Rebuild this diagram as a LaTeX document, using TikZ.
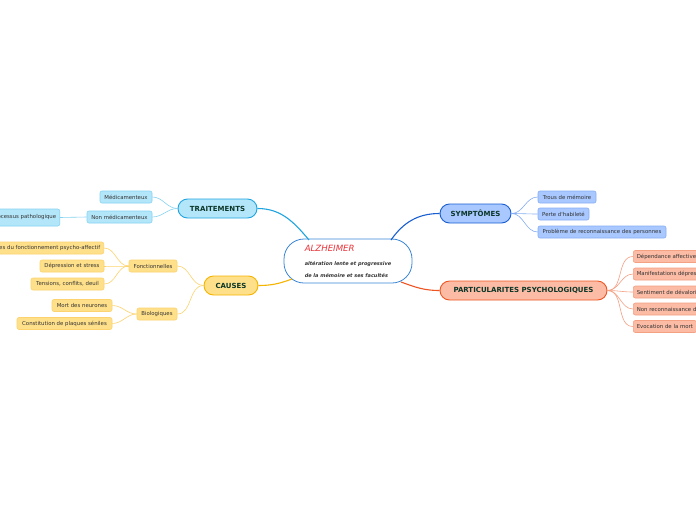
\documentclass[tikz,border=0pt]{standalone}
\usepackage{fontspec}
\newfontfamily\dv{DejaVu Sans}
\usetikzlibrary{positioning}
\definecolor{txt}{HTML}{333333}
\definecolor{maintxt}{HTML}{0B3628}
\definecolor{trF}{HTML}{B4E6FA}\definecolor{trD}{HTML}{1EA5E0}\definecolor{trL}{HTML}{86D3F2}
\definecolor{caF}{HTML}{FFE08A}\definecolor{caD}{HTML}{F5B400}\definecolor{caL}{HTML}{FCD36E}
\definecolor{syF}{HTML}{A8C8FF}\definecolor{syD}{HTML}{1A5FD0}\definecolor{syL}{HTML}{86AEF2}
\definecolor{ppF}{HTML}{FBBBA5}\definecolor{ppD}{HTML}{EE5522}\definecolor{ppL}{HTML}{F4A083}
\definecolor{cenD}{HTML}{3A86D6}\definecolor{alz}{HTML}{E8343A}
\tikzset{
  kid/.style={draw, rounded corners=2pt, inner sep=0pt, minimum height=12, line width=0.6pt,
    font=\dv\fontsize{5.4}{6.5}\selectfont, text=txt},
  mainbox/.style={draw, rounded corners=9.5pt, inner sep=0pt, minimum height=19, line width=0.9pt,
    font=\dv\bfseries\fontsize{7}{8}\selectfont, text=maintxt},
  kidedge/.style={line width=0.6pt},
  mainedge/.style={line width=1.1pt},
}
\begin{document}
\begin{tikzpicture}[x=1pt,y=-1pt]
\useasboundingbox (0,0) rectangle (696,520);
\clip (0,0) rectangle (696,520);
\fill[white] (0,0) rectangle (696,520);
% central
\node[draw=cenD, line width=0.8pt, rounded corners=20pt, fill=white, minimum width=128, minimum height=44, inner sep=0pt, align=left] (cen) at (348,261)
  {{\dv\itshape\fontsize{8.6}{9}\selectfont\color{alz}ALZHEIMER}\\[2pt]
   {\dv\bfseries\itshape\fontsize{5}{10}\selectfont\color{txt}altération lente et progressive}\\
   {\dv\bfseries\itshape\fontsize{5}{6}\selectfont\color{txt}de la mémoire et ses facultés}};
\coordinate (cTR) at (309,240);
\coordinate (cSY) at (391,240);
\coordinate (cCA) at (292,279);
\coordinate (cPP) at (401,282);
% main nodes
\node[mainbox, fill=trF, draw=trD, minimum width=79] (tr) at (217.5,208.5) {TRAITEMENTS};
\node[mainbox, fill=caF, draw=caD, minimum width=54] (ca) at (231,285.5) {CAUSES};
\node[mainbox, fill=syF, draw=syD, minimum width=71] (sy) at (475.5,213.5) {SYMPTÔMES};
\node[mainbox, fill=ppF, draw=ppD, minimum width=167] (pp) at (523.5,290.5) {PARTICULARITES PSYCHOLOGIQUES};
% main edges
\draw[mainedge, trD] (tr.east) to[out=0,in=130] (cTR);
\draw[mainedge, syD] (sy.west) to[out=180,in=55] (cSY);
\draw[mainedge, caD] (ca.east) to[out=0,in=200] (cCA);
\draw[mainedge, ppD] (cPP) to[out=-20,in=180] (pp.west);
% traitements children
\node[kid, fill=trF, draw=trL, minimum width=52] (med) at (126,197) {Médicamenteux};
\node[kid, fill=trF, draw=trL, minimum width=65] (nonmed) at (119.5,217) {Non médicamenteux};
\node[kid, fill=trF, draw=trL, minimum height=17, inner xsep=3.5pt, anchor=east] (ral) at (60,217.5) {Ralentissement du processus pathologique};
\draw[kidedge, trL] (tr.west) to[out=180,in=0] (med.east);
\draw[kidedge, trL] (tr.west) to[out=180,in=0] (nonmed.east);
\draw[kidedge, trL] (nonmed.west) -- (ral.east);
% causes children
\node[kid, fill=caF, draw=caL, minimum width=48] (fonc) at (153,266) {Fonctionnelles};
\node[kid, fill=caF, draw=caL, minimum width=40] (bio) at (157,314) {Biologiques};
\node[kid, fill=caF, draw=caL, inner xsep=3.5pt, anchor=east] (trb) at (104,248) {Troubles du fonctionnement psycho-affectif};
\node[kid, fill=caF, draw=caL, minimum width=64] (dep) at (72,266) {Dépression et stress};
\node[kid, fill=caF, draw=caL, minimum width=73] (ten) at (67.5,284) {Tensions, conflits, deuil};
\node[kid, fill=caF, draw=caL, minimum width=60] (mort) at (82,305.5) {Mort des neurones};
\node[kid, fill=caF, draw=caL, minimum width=95] (con) at (64.5,323.5) {Constitution de plaques séniles};
\draw[kidedge, caL] (ca.west) to[out=180,in=0] (fonc.east);
\draw[kidedge, caL] (ca.west) to[out=180,in=0] (bio.east);
\draw[kidedge, caL] (fonc.west) to[out=180,in=0] (trb.east);
\draw[kidedge, caL] (fonc.west) to[out=180,in=0] (dep.east);
\draw[kidedge, caL] (fonc.west) to[out=180,in=0] (ten.east);
\draw[kidedge, caL] (bio.west) to[out=180,in=0] (mort.east);
\draw[kidedge, caL] (bio.west) to[out=180,in=0] (con.east);
% symptomes children
\node[kid, fill=syF, draw=syL, minimum width=58] (trous) at (567,197) {Trous de mémoire};
\node[kid, fill=syF, draw=syL, minimum width=51] (perte) at (563.5,214) {Perte d'habileté};
\node[kid, fill=syF, draw=syL, minimum width=128] (prob) at (602,232) {Problème de reconnaissance des personnes};
\draw[kidedge, syL] (sy.east) to[out=0,in=180] (trous.west);
\draw[kidedge, syL] (sy.east) to[out=0,in=180] (perte.west);
\draw[kidedge, syL] (sy.east) to[out=0,in=180] (prob.west);
% particularites children
\node[kid, fill=ppF, draw=ppL, inner xsep=3.5pt, anchor=west] (p1) at (633,256.5) {Dépendance affective};
\node[kid, fill=ppF, draw=ppL, inner xsep=3.5pt, anchor=west] (p2) at (633,274) {Manifestations dépressives};
\node[kid, fill=ppF, draw=ppL, inner xsep=3.5pt, anchor=west] (p3) at (633,292) {Sentiment de dévalorisation};
\node[kid, fill=ppF, draw=ppL, inner xsep=3.5pt, anchor=west] (p4) at (633,309) {Non reconnaissance de soi};
\node[kid, fill=ppF, draw=ppL, inner xsep=3.5pt, anchor=west] (p5) at (633,326.5) {Evocation de la mort};
\foreach \p in {p1,p2,p3,p4,p5}
  \draw[kidedge, ppL] (pp.east) to[out=0,in=180] (\p.west);
\end{tikzpicture}
\end{document}
